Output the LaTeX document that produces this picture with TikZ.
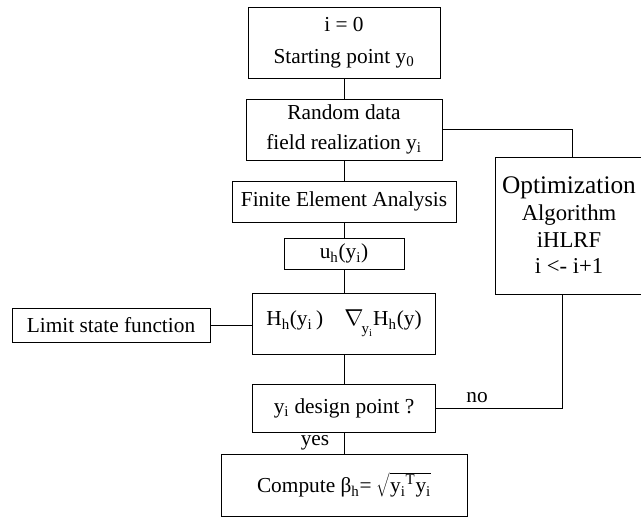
\documentclass[tikz,border=0pt]{standalone}
\usepackage{fontspec}
\setmainfont{Liberation Serif}
\begin{document}
\begin{tikzpicture}[x=.75pt,y=-.75pt,
  box/.style={draw,line width=.7pt,align=center,inner sep=0pt,
    font=\fontsize{16}{22}\selectfont},
  lbl/.style={inner sep=0pt,font=\fontsize{16}{19}\selectfont}]
\useasboundingbox (0,0) rectangle (641,519);

% main column
\node[box,minimum width=144pt,minimum height=53.25pt] (start) at (344,42.5)
  {i = 0\\[2pt] Starting point y\textsubscript{0}};
\node[box,minimum width=147pt,minimum height=45.75pt] (rand) at (344,129.5)
  {Random data\\ field realization y\textsubscript{i}};
\node[box,minimum width=168pt,minimum height=30.75pt] (fea) at (344,201.5)
  {Finite Element Analysis};
\node[box,minimum width=90pt,minimum height=23.25pt] (uh) at (344,253.5)
  {u\textsubscript{h}(y\textsubscript{i})};
\node[box,minimum width=137.25pt,minimum height=45.75pt] (hfun) at (344,323.5)
  {H\textsubscript{h}(y\textsubscript{i}\,)\quad$\nabla$\kern-.1em\raisebox{-.5ex}{\textsubscript{y\textsubscript{i}}}H\textsubscript{h}(y)};
\node[box,minimum width=137.25pt,minimum height=36pt] (design) at (344,408)
  {y\textsubscript{i} design point ?};
\node[box,minimum width=184.5pt,minimum height=46.5pt] (beta) at (344,485)
  {Compute β\textsubscript{h}= $\sqrt{\mbox{y\textsubscript{i}\textsuperscript{T}y\textsubscript{i}}}$};

% side boxes
\node[box,minimum width=148.5pt,minimum height=25.5pt] (limit) at (111,325)
  {Limit state function};
\node[box,minimum width=111pt,minimum height=102.75pt,
  font=\fontsize{17}{20}\selectfont] (opt) at (569,225.5)
  {{\fontsize{19}{20}\selectfont Optimization}\\ Algorithm\\ iHLRF\\ i <- i+1};

\node[lbl] (yes) at (315,443) {yes};
\node[lbl] (no) at (477,398) {no};

\draw[line width=.7pt] (start) -- (rand);
\draw[line width=.7pt] (rand) -- (fea);
\draw[line width=.7pt] (fea) -- (uh);
\draw[line width=.7pt] (uh) -- (hfun);
\draw[line width=.7pt] (hfun) -- (design);
\draw[line width=.7pt] (design) -- (beta);
\draw[line width=.7pt] (limit.east) -- (limit.east -| hfun.west);
\draw[line width=.7pt] (rand.east) -| ([xshift=2.25pt]opt.north);
\draw[line width=.7pt] (design.east) -| ([xshift=-5.25pt]opt.south);
\end{tikzpicture}
\end{document}
